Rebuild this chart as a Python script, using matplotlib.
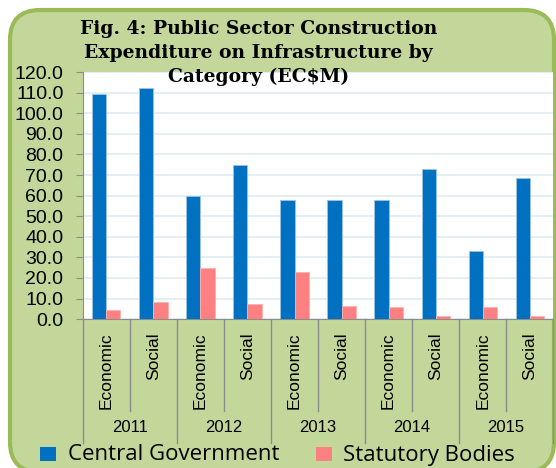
import numpy as np
import matplotlib.pyplot as plt
from matplotlib.patches import FancyBboxPatch, Rectangle
from matplotlib.lines import Line2D

years = ["2011", "2012", "2013", "2014", "2015"]
kinds = ["Economic", "Social"]
central = [109.2, 112.2, 59.8, 74.8, 57.8, 58.0, 58.0, 73.0, 33.2, 68.8]
statutory = [4.5, 8.3, 24.8, 7.5, 23.0, 6.3, 5.7, 1.3, 5.7, 1.3]
yticks = np.arange(0, 121, 10)
blue = "#0070c0"
pink = "#ff8080"

fig = plt.figure(figsize=(5.56, 4.68), dpi=100)

# green rounded background (in inches so the corners stay round)
bg = FancyBboxPatch((0.10, -0.04), 5.44, 4.62, boxstyle="round,pad=0,rounding_size=0.3",
                    transform=fig.dpi_scale_trans, facecolor="#c4d79b", edgecolor="#9bbb59",
                    linewidth=3, zorder=-10)
fig.patches.append(bg)

ax = fig.add_axes([0.149, 0.318, 0.846, 0.528])
x = np.arange(len(central))
w = 0.3
ax.bar(x - w/2, central, w, color=blue, edgecolor="#9dc3e6", linewidth=0.6, zorder=3)
ax.bar(x + w/2, statutory, w, color=pink, edgecolor="#ffb0b0", linewidth=0.6, zorder=3)

ax.set_xlim(-0.5, len(central) - 0.5)
ax.set_ylim(0, 120)
ax.set_yticks(yticks)
ax.set_yticklabels(["%.1f" % v for v in yticks], fontsize=14, family="Liberation Sans")
ax.yaxis.grid(True, color="#ddeef5", linewidth=1.2, zorder=0)
ax.set_xticks([])
for s in ["top", "right"]:
    ax.spines[s].set_visible(False)
ax.spines["left"].set_color("#8c8c8c")
ax.spines["bottom"].set_color("#8c8c8c")
ax.tick_params(axis="y", colors="#8c8c8c", labelcolor="black", length=5, pad=9)

# category labels and separators
tr = ax.get_xaxis_transform()
for i in range(len(central)):
    ax.text(x[i], -0.055, kinds[i % 2], rotation=90, ha="center", va="top",
            fontsize=12.5, family="Liberation Sans", transform=tr)
for i in range(len(central) + 1):
    b = i - 0.5
    low = -0.5 if i % 2 == 0 else -0.37
    ax.add_line(Line2D([b, b], [0, low], transform=tr, color="#8c8c8c",
                       linewidth=1, clip_on=False))
for j, yr in enumerate(years):
    ax.text(2*j + 0.5, -0.44, yr, ha="center", va="center", fontsize=12,
            family="Liberation Sans", transform=tr)

fig.text(0.465, 0.958, "Fig. 4: Public Sector Construction\nExpenditure on Infrastructure by\nCategory (EC$M)",
         ha="center", va="top", fontsize=13.5, fontweight="bold", family="DejaVu Serif",
         linespacing=1.42)

# legend at the bottom
for sx, tx, lab, col in [(40, 68, "Central Government", blue), (316, 343, "Statutory Bodies", pink)]:
    fig.patches.append(Rectangle((sx / 556, 1 - 461 / 468), 16 / 556, 14 / 468,
                                 transform=fig.transFigure, facecolor=col, edgecolor="none"))
    fig.text(tx / 556, 1 - 455 / 468, lab, ha="left", va="center", fontsize=16,
             family="Open Sans")

plt.savefig("out.png", dpi=100)
